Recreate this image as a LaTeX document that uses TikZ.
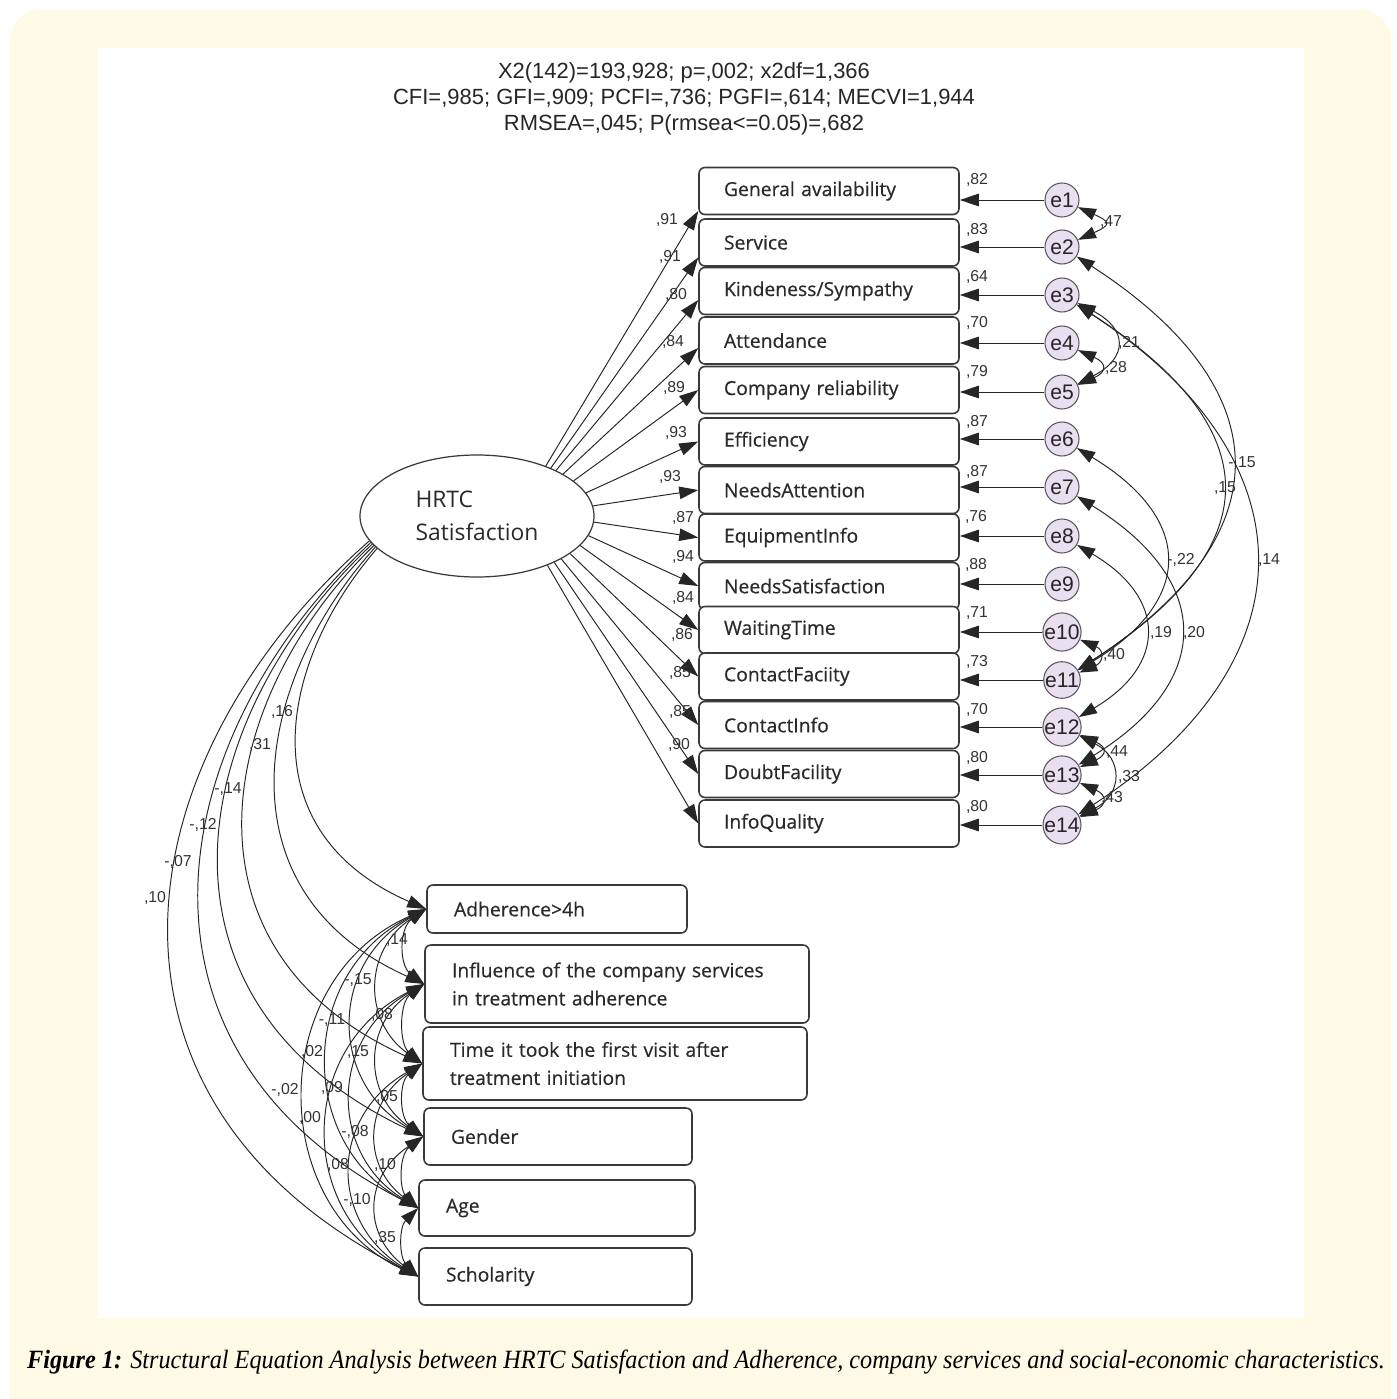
\documentclass[tikz,border=0pt]{standalone}
\usepackage{fontspec}
\setmainfont{Open Sans}[FakeBold=0.5]
\newfontfamily\latentfont{Open Sans}
\newfontfamily\statfont{Liberation Sans}
\newfontfamily\capfont[FakeStretch=0.92]{Liberation Serif}
\usetikzlibrary{arrows.meta,shapes.geometric}

\definecolor{semCream}{HTML}{FFFAE6}
\definecolor{semErr}{HTML}{E9DFF0}
\definecolor{semInk}{HTML}{262626}
\definecolor{semEdge}{HTML}{3A3A3A}
\definecolor{semText}{HTML}{2A2A2A}
\tikzset{
  semBox/.style={
    draw=semEdge,
    line width=0.9pt,
    rounded corners=1.2mm,
    fill=white,
    minimum width=52mm,
    minimum height=9.4mm,
    inner xsep=5mm,
    inner ysep=0pt,
    text width=42mm,
    align=left,
    text=semText,
    font=\fontsize{11}{16}\selectfont
  },
  semSide/.style={semBox, inner xsep=5.4mm},
  semLatent/.style={
    ellipse,
    draw=semEdge,
    line width=0.7pt,
    minimum width=46.8mm,
    minimum height=24.4mm,
    inner sep=0pt,
    align=left,
    text=semText,
    font=\latentfont\fontsize{13}{19}\selectfont
  },
  semErrNode/.style={
    circle,
    draw=gray!70!black,
    line width=0.6pt,
    fill=semErr,
    minimum size=6.8mm,
    inner sep=0pt,
    text=semInk,
    font=\statfont\fontsize{12}{12}\selectfont
  },
  semPath/.style={semInk, line width=0.55pt, -{Triangle[length=3.8mm,width=2.5mm]}},
  semCov/.style={semInk, line width=0.55pt,
    {Triangle[length=3.6mm,width=2.4mm]}-{Triangle[length=3.6mm,width=2.4mm]}},
  coef/.style={font=\statfont\fontsize{9}{9}\selectfont, text=black!80, inner sep=0pt},
  fitText/.style={font=\statfont\fontsize{12.5}{14.8}\selectfont, align=center, text=semInk},
  capText/.style={font=\capfont\itshape\fontsize{15}{18}\selectfont, text=black}
}

\begin{document}
\begin{tikzpicture}[x=0.2mm,y=-0.2mm]
  \useasboundingbox (0,0) rectangle (1396,1399);
  \clip (0,0) rectangle (1396,1399);
  \fill[semCream, rounded corners=6mm] (10,10) rectangle (1391,1450);
  \fill[white] (98,48) rectangle (1304,1318);

  % fit indices
  \node[fitText] (fit) at (684,99) {X2(142)=193,928; p=,002; x2df=1,366\\
    CFI=,985; GFI=,909; PCFI=,736; PGFI=,614; MECVI=1,944\\
    RMSEA=,045; P(rmsea<=0.05)=,682};

  % latent variable
  \node[semLatent] (hrtc) at (477,516) {HRTC\\Satisfaction};

  % indicators
  \node[semBox] (ga)    at (829,191)   {General availability};
  \node[semBox] (serv)  at (829,242.5) {Service};
  \node[semBox] (kind)  at (829,291)   {Kindeness/Sympathy};
  \node[semBox] (att)   at (829,340.5) {Attendance};
  \node[semBox] (comp)  at (829,390)   {Company reliability};
  \node[semBox] (eff)   at (829,441.5) {Efficiency};
  \node[semBox] (natt)  at (829,490)   {NeedsAttention};
  \node[semBox] (einfo) at (829,537.5) {EquipmentInfo};
  \node[semBox] (nsat)  at (829,586)   {NeedsSatisfaction};
  \node[semBox] (wait)  at (829,630)   {WaitingTime};
  \node[semBox] (cfac)  at (829,676.5) {ContactFaciity};
  \node[semBox] (cinfo) at (829,725)   {ContactInfo};
  \node[semBox] (dfac)  at (829,774)   {DoubtFacility};
  \node[semBox] (iqual) at (829,823.5) {InfoQuality};

  % error terms
  \node[semErrNode] (e1)  at (1062,200) {e1};
  \node[semErrNode] (e2)  at (1062,247) {e2};
  \node[semErrNode] (e3)  at (1062,295) {e3};
  \node[semErrNode] (e4)  at (1062,343) {e4};
  \node[semErrNode] (e5)  at (1062,392) {e5};
  \node[semErrNode] (e6)  at (1062,439) {e6};
  \node[semErrNode] (e7)  at (1062,487) {e7};
  \node[semErrNode] (e8)  at (1062,536) {e8};
  \node[semErrNode] (e9)  at (1062,584) {e9};
  \node[semErrNode] (e10) at (1062,632) {e10};
  \node[semErrNode] (e11) at (1062,680) {e11};
  \node[semErrNode] (e12) at (1062,727) {e12};
  \node[semErrNode] (e13) at (1062,775) {e13};
  \node[semErrNode] (e14) at (1062,825) {e14};

  % observed characteristics
  \node[semSide, minimum width=52mm, text width=41.2mm, minimum height=9.6mm]
    (adh) at (557,909) {Adherence>4h};
  \node[semSide, minimum width=76.8mm, text width=66mm, minimum height=15.6mm]
    (infl) at (617,984) {Influence of the company services\\in treatment adherence};
  \node[semSide, minimum width=76.8mm, text width=66mm, minimum height=14.6mm]
    (tfirst) at (615,1063.5) {Time it took the first visit after\\treatment initiation};
  \node[semSide, minimum width=53.6mm, text width=42.8mm, minimum height=11.4mm]
    (gend) at (558,1136.5) {Gender};
  \node[semSide, minimum width=55.2mm, text width=44.4mm, minimum height=11.2mm]
    (age) at (557,1208) {Age};
  \node[semSide, minimum width=54.6mm, text width=43.8mm, minimum height=11.4mm]
    (schol) at (555.5,1276.5) {Scholarity};

  % loadings
  \draw[semPath] (hrtc.36)  -- ([yshift=-4mm]ga.west);
  \draw[semPath] (hrtc.33)  -- ([yshift=-3mm]serv.west);
  \draw[semPath] (hrtc.30)  -- ([yshift=-1.8mm]kind.west);
  \draw[semPath] (hrtc.26)  -- ([yshift=-1.5mm]att.west);
  \draw[semPath] (hrtc.20)  -- (comp.west);
  \draw[semPath] (hrtc.12)  -- (eff.west);
  \draw[semPath] (hrtc.5)   -- (natt.west);
  \draw[semPath] (hrtc.-3)  -- (einfo.west);
  \draw[semPath] (hrtc.-10) -- (nsat.west);
  \draw[semPath] (hrtc.-16) -- (wait.west);
  \draw[semPath] (hrtc.-22) -- (cfac.west);
  \draw[semPath] (hrtc.-27) -- (cinfo.west);
  \draw[semPath] (hrtc.-31) -- (dfac.west);
  \draw[semPath] (hrtc.-35) -- (iqual.west);

  \node[coef] (ld1)  at (667,220) {,91};
  \node[coef] (ld2)  at (670,257) {,91};
  \node[coef] (ld3)  at (676,295) {,80};
  \node[coef] (ld4)  at (673,342) {,84};
  \node[coef] (ld5)  at (674,388) {,89};
  \node[coef] (ld6)  at (676,433) {,93};
  \node[coef] (ld7)  at (670,477) {,93};
  \node[coef] (ld8)  at (683,518) {,87};
  \node[coef] (ld9)  at (683,557) {,94};
  \node[coef] (ld10) at (683,598) {,84};
  \node[coef] (ld11) at (682,635) {,86};
  \node[coef] (ld12) at (680,673) {,85};
  \node[coef] (ld13) at (680,712) {,85};
  \node[coef] (ld14) at (679,745) {,90};

  % error paths
  \draw[semPath] (e1)  -- (e1 -| ga.east);
  \draw[semPath] (e2)  -- (e2 -| serv.east);
  \draw[semPath] (e3)  -- (e3 -| kind.east);
  \draw[semPath] (e4)  -- (e4 -| att.east);
  \draw[semPath] (e5)  -- (e5 -| comp.east);
  \draw[semPath] (e6)  -- (e6 -| eff.east);
  \draw[semPath] (e7)  -- (e7 -| natt.east);
  \draw[semPath] (e8)  -- (e8 -| einfo.east);
  \draw[semPath] (e9)  -- (e9 -| nsat.east);
  \draw[semPath] (e10) -- (e10 -| wait.east);
  \draw[semPath] (e11) -- (e11 -| cfac.east);
  \draw[semPath] (e12) -- (e12 -| cinfo.east);
  \draw[semPath] (e13) -- (e13 -| dfac.east);
  \draw[semPath] (e14) -- (e14 -| iqual.east);

  \node[coef] (rs1)  at (977,180) {,82};
  \node[coef] (rs2)  at (977,230) {,83};
  \node[coef] (rs3)  at (977,277) {,64};
  \node[coef] (rs4)  at (977,323) {,70};
  \node[coef] (rs5)  at (977,372) {,79};
  \node[coef] (rs6)  at (977,422) {,87};
  \node[coef] (rs7)  at (977,472) {,87};
  \node[coef] (rs8)  at (976,517) {,76};
  \node[coef] (rs9)  at (976,565) {,88};
  \node[coef] (rs10) at (977,613) {,71};
  \node[coef] (rs11) at (977,662) {,73};
  \node[coef] (rs12) at (977,710) {,70};
  \node[coef] (rs13) at (977,758) {,80};
  \node[coef] (rs14) at (977,807) {,80};

  % error covariances
  \draw[semCov] (e1)  .. controls (1111,222) and (1111,225) .. (e2);
  \draw[semCov] (e3)  .. controls (1128,329) and (1128,358) .. (e5);
  \draw[semCov] (e4)  .. controls (1107,363) and (1107,372) .. (e5);
  \draw[semCov] (e2)  .. controls (1283,390) and (1283,537) .. (e11);
  \draw[semCov] (e3)  .. controls (1270,429) and (1270,546) .. (e11);
  \draw[semCov] (e3)  .. controls (1314,459) and (1314,661) .. (e14);
  \draw[semCov] (e6)  .. controls (1194,519) and (1194,600) .. (e11);
  \draw[semCov] (e7)  .. controls (1214,581) and (1214,681) .. (e13);
  \draw[semCov] (e8)  .. controls (1167,598) and (1167,665) .. (e12);
  \draw[semCov] (e10) .. controls (1104,650) and (1104,662) .. (e11);
  \draw[semCov] (e12) .. controls (1107,747) and (1107,755) .. (e13);
  \draw[semCov] (e12) .. controls (1123,758) and (1123,794) .. (e14);
  \draw[semCov] (e13) .. controls (1107,795) and (1107,805) .. (e14);

  \node[coef] (ec1)  at (1111,222) {,47};
  \node[coef] (ec2)  at (1129,343) {,21};
  \node[coef] (ec3)  at (1116,368) {,28};
  \node[coef] (ec4)  at (1242,463) {-,15};
  \node[coef] (ec5)  at (1225,488) {,15};
  \node[coef] (ec6)  at (1269,560) {,14};
  \node[coef] (ec7)  at (1181,560) {-,22};
  \node[coef] (ec8)  at (1194,633) {,20};
  \node[coef] (ec9)  at (1161,633) {,19};
  \node[coef] (ec10) at (1114,655) {,40};
  \node[coef] (ec11) at (1117,752) {,44};
  \node[coef] (ec12) at (1129,777) {,33};
  \node[coef] (ec13) at (1112,798) {,43};

  % effects on characteristics
  \draw[semPath] (hrtc.198) .. controls (280,660) and (245,830) .. (adh.west);
  \draw[semPath] (hrtc.197) .. controls (255,680) and (215,890) .. (infl.west);
  \draw[semPath] (hrtc.196) .. controls (215,700) and (170,950) .. (tfirst.west);
  \draw[semPath] (hrtc.195) .. controls (185,720) and (135,1000) .. (gend.west);
  \draw[semPath] (hrtc.194) .. controls (160,740) and (110,1050) .. (age.west);
  \draw[semPath] (hrtc.193) .. controls (120,760) and (70,1100) .. (schol.west);

  \node[coef] (rg1) at (282,712) {,16};
  \node[coef] (rg2) at (260,745) {,31};
  \node[coef] (rg3) at (228,789) {-,14};
  \node[coef] (rg4) at (203,825) {-,12};
  \node[coef] (rg5) at (178,862) {-,07};
  \node[coef] (rg6) at (155,898) {,10};

  % correlations between characteristics
  \draw[semCov] (adh.west)    .. controls (399,928)  and (399,965)  .. (infl.west);
  \draw[semCov] (infl.west)   .. controls (399,1003) and (399,1044) .. (tfirst.west);
  \draw[semCov] (tfirst.west) .. controls (399,1082) and (399,1117) .. (gend.west);
  \draw[semCov] (gend.west)   .. controls (399,1155) and (399,1189) .. (age.west);
  \draw[semCov] (age.west)    .. controls (399,1227) and (399,1257) .. (schol.west);
  \draw[semCov] (adh.west)    .. controls (363,950)  and (363,1022) .. (tfirst.west);
  \draw[semCov] (infl.west)   .. controls (363,1025) and (363,1095) .. (gend.west);
  \draw[semCov] (tfirst.west) .. controls (363,1104) and (363,1167) .. (age.west);
  \draw[semCov] (gend.west)   .. controls (363,1177) and (363,1235) .. (schol.west);
  \draw[semCov] (adh.west)    .. controls (329,963)  and (329,1082) .. (gend.west);
  \draw[semCov] (infl.west)   .. controls (329,1038) and (329,1154) .. (age.west);
  \draw[semCov] (tfirst.west) .. controls (329,1117) and (329,1222) .. (schol.west);
  \draw[semCov] (adh.west)    .. controls (297,973)  and (297,1144) .. (age.west);
  \draw[semCov] (infl.west)   .. controls (297,1048) and (297,1212) .. (schol.west);
  \draw[semCov] (adh.west)    .. controls (266,979)  and (266,1206) .. (schol.west);

  \node[coef] (xc1)  at (397,940)  {,14};
  \node[coef] (xc2)  at (358,980)  {-,15};
  \node[coef] (xc3)  at (332,1020) {-,11};
  \node[coef] (xc4)  at (312,1052) {,02};
  \node[coef] (xc5)  at (285,1090) {-,02};
  \node[coef] (xc6)  at (382,1015) {,08};
  \node[coef] (xc7)  at (358,1052) {,15};
  \node[coef] (xc8)  at (332,1088) {,09};
  \node[coef] (xc9)  at (310,1118) {,00};
  \node[coef] (xc10) at (387,1097) {,05};
  \node[coef] (xc11) at (355,1132) {-,08};
  \node[coef] (xc12) at (338,1165) {,08};
  \node[coef] (xc13) at (385,1165) {,10};
  \node[coef] (xc14) at (357,1200) {-,10};
  \node[coef] (xc15) at (385,1238) {,35};

  % caption
  \node[capText] (cap) at (706,1362)
    {\textbf{Figure 1:} Structural Equation Analysis between HRTC Satisfaction and Adherence, company services and social-economic characteristics.};
\end{tikzpicture}
\end{document}
